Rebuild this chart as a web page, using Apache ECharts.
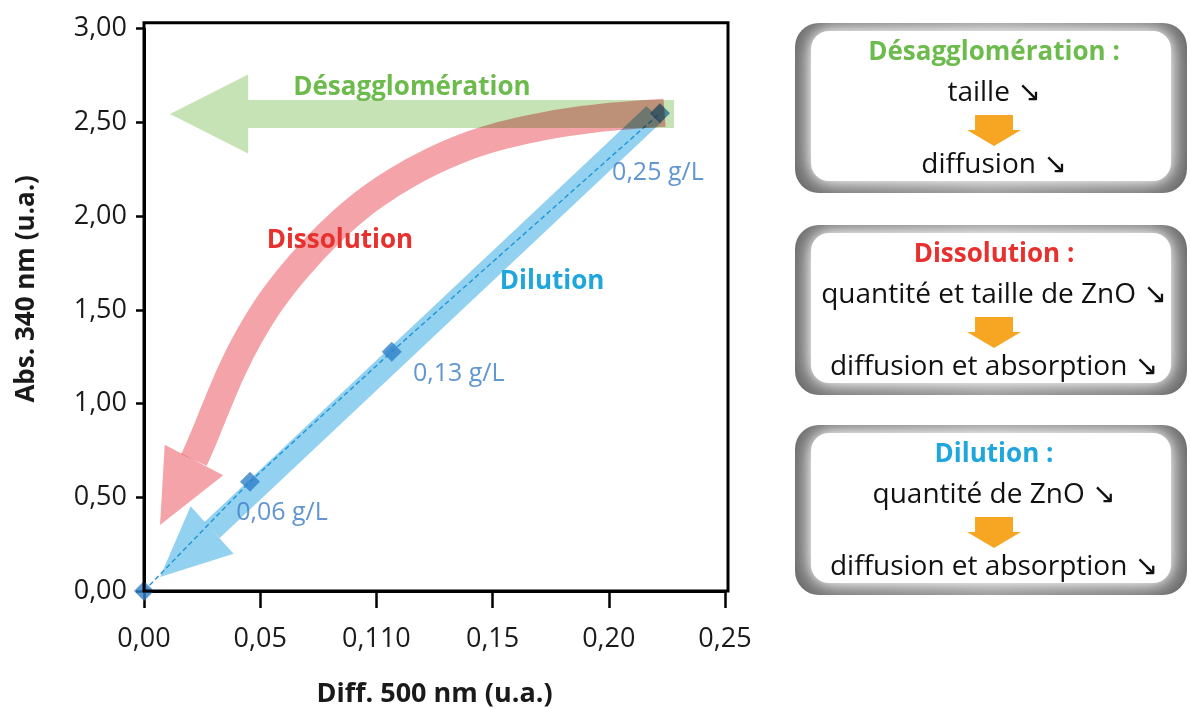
<!DOCTYPE html>
<html><head><meta charset="utf-8">
<script src="https://cdn.jsdelivr.net/npm/echarts@6/dist/echarts.min.js"></script>
<style>html,body{margin:0;padding:0;background:#fff}#chart{width:1190px;height:709px}</style>
</head><body><div id="chart"></div>
<script>
// ---------------- data ----------------
const diffX = [0.000, 0.0456, 0.1066, 0.2220];
const absY  = [0.000, 0.583, 1.277, 2.549];
const concLabels = ['', '0,06 g/L', '0,13 g/L', '0,25 g/L'];
const xTickLabels = ['0,00', '0,05', '0,110', '0,15', '0,20', '0,25'];
const yTickLabels = ['0,00', '0,50', '1,00', '1,50', '2,00', '2,50', '3,00'];

// annotation arrows (in data units)
const dilutionPathX = [0.2195, 0.0293];
const dilutionPathY = [2.545, 0.326];
const dilutionTip = [0.0069, 0.075];
const dilutionLabelAt = [0.1756, 1.649];

const dissolutionPathX = [0.2240, 0.1962, 0.1704, 0.1446, 0.1209, 0.0994, 0.0822, 0.0671, 0.0551, 0.0456, 0.0379, 0.0314, 0.0258, 0.0215];
const dissolutionPathY = [2.552, 2.524, 2.476, 2.396, 2.273, 2.113, 1.937, 1.740, 1.553, 1.366, 1.179, 0.992, 0.821, 0.699];
const dissolutionTip = [0.0069, 0.352];
const dissolutionLabelAt = [0.0843, 1.868];

const desaggPathX = [0.2281, 0.0448];
const desaggPathY = [2.545, 2.545];
const desaggTip = [0.0112, 2.545];
const desaggLabelAt = [0.1153, 2.684];

// side boxes text
const boxTitles = ['Désagglomération :', 'Dissolution :', 'Dilution :'];
const boxLine1 = ['taille ↘', 'quantité et taille de ZnO ↘', 'quantité de ZnO ↘'];
const boxLine2 = ['diffusion ↘', 'diffusion et absorption ↘', 'diffusion et absorption ↘'];

// ---------------- styles ----------------
const FONT = '"Open Sans", "DejaVu Sans", sans-serif';
const GREEN_TXT = '#6cbb4c', RED_TXT = '#e8302e', BLUE_TXT = '#1fa6dc';
const boxTitleColors = [GREEN_TXT, RED_TXT, BLUE_TXT];
const labelOffsets = [[0, 0], [32, 31], [67, 22], [-2, 60]];

// Catmull-Rom sampling of pixel points (rendering only)
function smoothPts(p, steps) {
  if (p.length < 3) return p;
  const out = [];
  for (let i = 0; i < p.length - 1; i++) {
    const p0 = p[Math.max(i - 1, 0)], p1 = p[i], p2 = p[i + 1], p3 = p[Math.min(i + 2, p.length - 1)];
    for (let s = 0; s < steps; s++) {
      const t = s / steps, t2 = t * t, t3 = t2 * t;
      const f = k => 0.5 * ((2 * p1[k]) + (-p0[k] + p2[k]) * t + (2 * p0[k] - 5 * p1[k] + 4 * p2[k] - p3[k]) * t2 + (-p0[k] + 3 * p1[k] - 3 * p2[k] + p3[k]) * t3);
      out.push([f(0), f(1)]);
    }
  }
  out.push(p[p.length - 1]);
  return out;
}

function arrowSeries(pathX, pathY, tip, labelAt, cfg) {
  return {
    type: 'custom', silent: true, z: cfg.z, clip: false, blendMode: 'multiply',
    data: [[tip[0], tip[1]]],
    encode: { x: 0, y: 1 },
    renderItem: function (params, api) {
      const raw = pathX.map((x, i) => api.coord([x, pathY[i]]));
      const pts = smoothPts(raw, 8);
      const T = api.coord(tip);
      const B = raw[raw.length - 1];
      let dx = T[0] - B[0], dy = T[1] - B[1];
      const L = Math.hypot(dx, dy); dx /= L; dy /= L;
      const nx = -dy, ny = dx, h = cfg.headHalf;
      const head = [[B[0] + nx * h, B[1] + ny * h], T, [B[0] - nx * h, B[1] - ny * h]];
      const lp = api.coord(labelAt);
      return {
        type: 'group',
        children: [
          { type: 'polyline', shape: { points: pts },
            style: { stroke: cfg.color, lineWidth: cfg.width, fill: null, lineJoin: 'round', lineCap: 'butt' } },
          { type: 'polygon', shape: { points: head }, style: { fill: cfg.color } },
          { type: 'text', x: lp[0], y: lp[1], z2: 50,
            style: { text: cfg.label, fill: cfg.textColor, font: 'bold 26px ' + FONT, align: 'center', verticalAlign: 'middle' } }
        ]
      };
    }
  };
}

// frame + side boxes as graphic elements
const graphics = [];
graphics.push({ type: 'rect', z: 100, silent: true,
  shape: { x: 144, y: 22.7, width: 584, height: 568.3 },
  style: { fill: null, stroke: '#000', lineWidth: 3 } });
const boxTops = [23, 225, 425];
boxTops.forEach((t, i) => {
  graphics.push({ type: 'rect', silent: true, shape: { x: 795, y: t, width: 392, height: 170, r: 24 },
    style: { fill: new echarts.graphic.LinearGradient(0, 0, 1, 0, [
      { offset: 0, color: '#666666' }, { offset: 0.5, color: '#8a8a8a' }, { offset: 1, color: '#666666' }]) } });
  graphics.push({ type: 'rect', silent: true, shape: { x: 811, y: t + 8, width: 360, height: 150, r: 18 },
    style: { fill: '#ffffff', shadowBlur: 26, shadowColor: '#ffffff' } });
  graphics.push({ type: 'rect', silent: true, shape: { x: 814, y: t + 11, width: 354, height: 144, r: 14 },
    style: { fill: '#ffffff', shadowBlur: 14, shadowColor: '#ffffff' } });
  graphics.push({ type: 'text', silent: true, x: 994, y: t + 30,
    style: { text: boxTitles[i], fill: boxTitleColors[i], font: 'bold 26px ' + FONT, align: 'center', verticalAlign: 'middle' } });
  graphics.push({ type: 'text', silent: true, x: 994, y: t + 70,
    style: { text: boxLine1[i], fill: '#111', font: '28px ' + FONT, align: 'center', verticalAlign: 'middle' } });
  graphics.push({ type: 'text', silent: true, x: 994, y: t + 142,
    style: { text: boxLine2[i], fill: '#111', font: '28px ' + FONT, align: 'center', verticalAlign: 'middle' } });
  const y0 = t + 92, cx = 994;
  graphics.push({ type: 'polygon', silent: true,
    shape: { points: [[cx - 19, y0], [cx + 19, y0], [cx + 19, y0 + 15], [cx + 27, y0 + 15], [cx, y0 + 31], [cx - 27, y0 + 15], [cx - 19, y0 + 15]] },
    style: { fill: '#f6a623' } });
});

const chart = echarts.init(document.getElementById('chart'));
chart.setOption({
  animation: false,
  backgroundColor: '#fff',
  textStyle: { fontFamily: FONT },
  grid: { left: 144, right: 465, top: 28.7, bottom: 118, containLabel: false, outerBoundsMode: 'none' },
  xAxis: {
    type: 'value', min: 0, max: 0.25, interval: 0.05,
    name: 'Diff. 500 nm (u.a.)', nameLocation: 'middle', nameGap: 90,
    nameTextStyle: { fontSize: 27, fontWeight: 'bold', color: '#1a1a1a', fontFamily: FONT },
    axisLine: { lineStyle: { color: '#000', width: 3 } },
    axisTick: { show: true, length: 17, lineStyle: { color: '#000', width: 2.5 } },
    axisLabel: { margin: 35, fontSize: 27, color: '#1a1a1a', fontFamily: FONT,
      formatter: v => xTickLabels[Math.round(v / 0.05)] },
    splitLine: { show: false }
  },
  yAxis: {
    type: 'value', min: 0, max: 3, interval: 0.5,
    name: 'Abs. 340 nm (u.a.)', nameLocation: 'middle', nameGap: 104,
    nameTextStyle: { fontSize: 26, fontWeight: 'bold', color: '#1a1a1a', fontFamily: FONT, padding: [0, 0, 0, 42] },
    axisLine: { lineStyle: { color: '#000', width: 3 } },
    axisTick: { show: true, length: 8, lineStyle: { color: '#000', width: 2.5 } },
    axisLabel: { margin: 17, fontSize: 27, color: '#1a1a1a', fontFamily: FONT,
      formatter: v => yTickLabels[Math.round(v / 0.5)] },
    splitLine: { show: false }
  },
  graphic: graphics,
  series: [
    arrowSeries(dilutionPathX, dilutionPathY, dilutionTip, dilutionLabelAt,
      { z: 1, color: '#93d1f1', width: 22, headHalf: 32, label: 'Dilution', textColor: BLUE_TXT }),
    {
      type: 'line', z: 2, silent: true, symbol: 'none',
      data: diffX.map((x, i) => [x, absY[i]]),
      lineStyle: { color: '#1f95d6', width: 1.4, type: [5, 3] }
    },
    {
      type: 'scatter', z: 3, silent: true, clip: false,
      symbol: 'diamond', symbolSize: 20,
      itemStyle: { color: '#2f7fc9' },
      data: diffX.map((x, i) => ({
        value: [x, absY[i]],
        label: { show: concLabels[i] !== '', position: 'inside', offset: labelOffsets[i],
          formatter: () => concLabels[i], color: '#3a7cc5', fontSize: 25, fontFamily: FONT }
      }))
    },
    arrowSeries(desaggPathX, desaggPathY, desaggTip, desaggLabelAt,
      { z: 4, color: '#c5e3b4', width: 28, headHalf: 39.5, label: 'Désagglomération', textColor: GREEN_TXT }),
    arrowSeries(dissolutionPathX, dissolutionPathY, dissolutionTip, dissolutionLabelAt,
      { z: 5, color: '#f4a3a8', width: 28, headHalf: 33, label: 'Dissolution', textColor: RED_TXT })
  ]
});
</script></body></html>
